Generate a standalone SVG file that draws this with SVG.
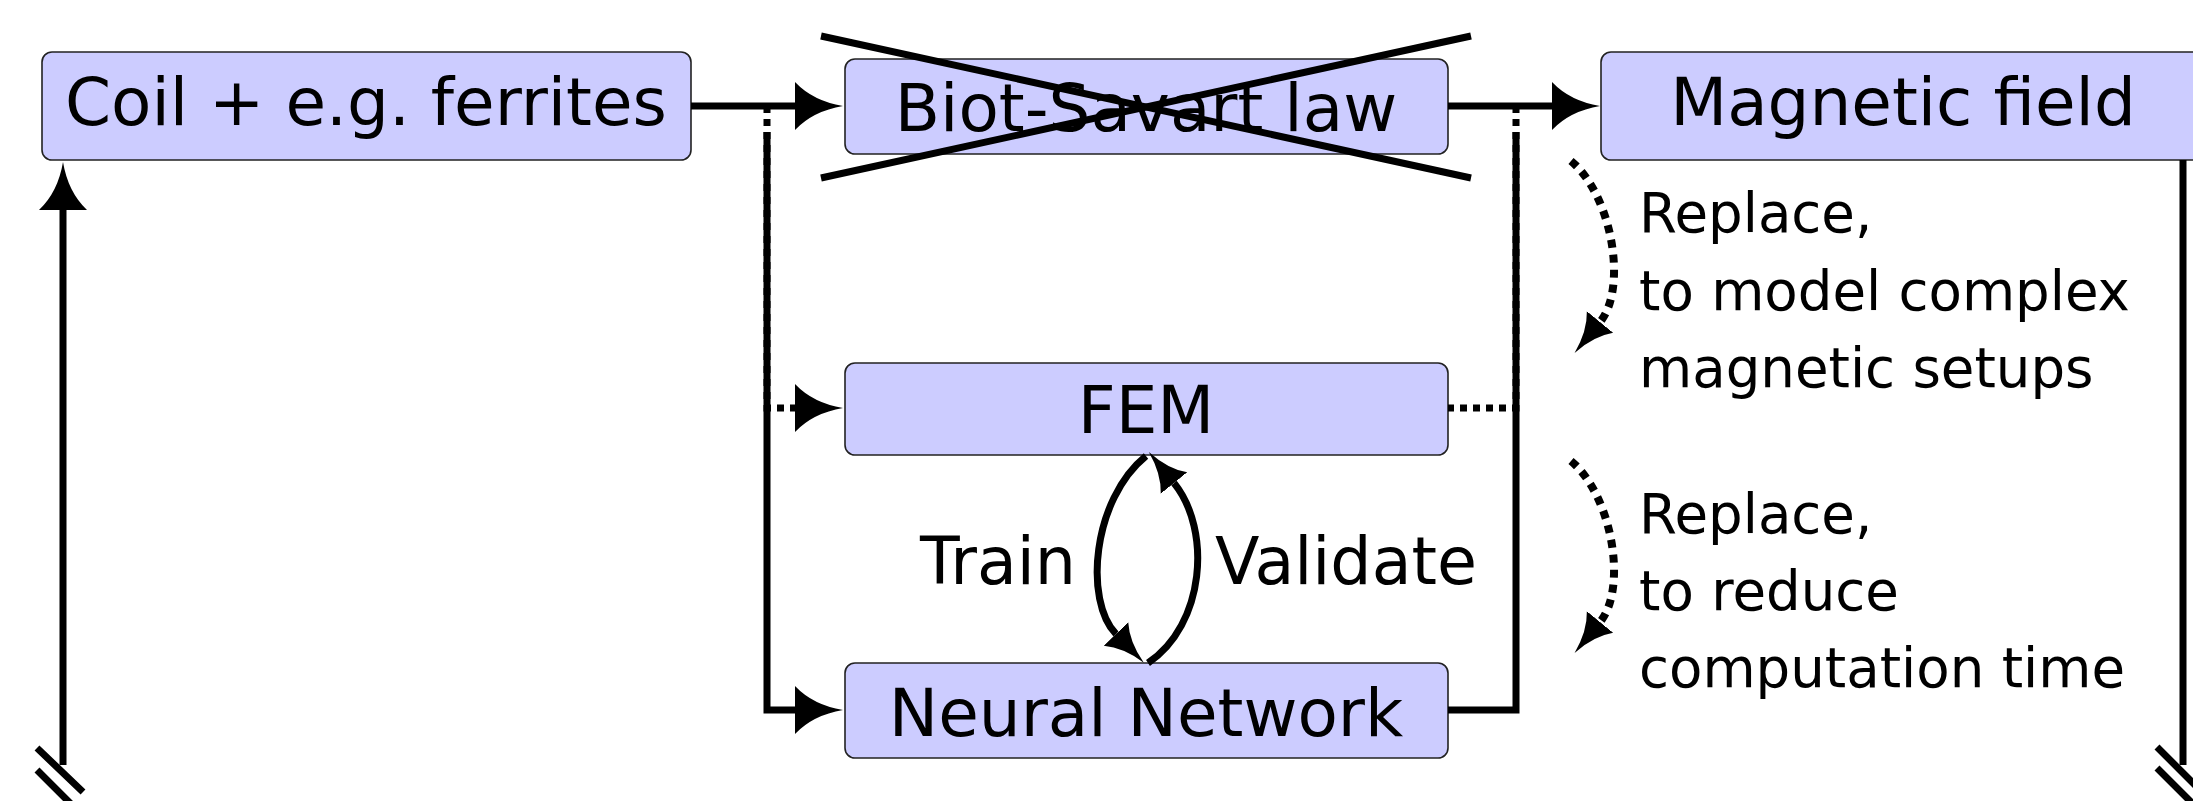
<svg xmlns="http://www.w3.org/2000/svg" width="2193" height="801" viewBox="0 0 2193 801">
<style>
.box{fill:#ccccff;stroke:#222;stroke-width:1.6}
.lbl{font-family:"DejaVu Sans","Liberation Sans",sans-serif;font-size:66px;fill:#000}
.lbl2{font-family:"DejaVu Sans","Liberation Sans",sans-serif;font-size:65px;fill:#000}
.note{font-family:"DejaVu Sans","Liberation Sans",sans-serif;font-size:54.6px;fill:#000}
.ln{fill:none;stroke:#000;stroke-width:7}
.dot{fill:none;stroke:#000;stroke-width:7;stroke-dasharray:7 6}
.dot2{fill:none;stroke:#000;stroke-width:8;stroke-dasharray:8 7}
.x{stroke:#000;stroke-width:7}
</style>
<defs>
<marker id="ah" markerUnits="userSpaceOnUse" viewBox="0 -25 48 50" refX="0" refY="0" markerWidth="48" markerHeight="50" orient="auto">
<path d="M0,-24 Q18,-5 48,0 Q18,5 0,24 Z" fill="#000"/>
</marker>
<marker id="as" markerUnits="userSpaceOnUse" viewBox="0 -18 40 36" refX="0" refY="0" markerWidth="40" markerHeight="36" orient="auto">
<path d="M0,-17 Q15,-4 40,0 Q15,4 0,17 Z" fill="#000"/>
</marker>
</defs>
<rect width="2193" height="801" fill="#fff"/>
<g id="coil">
<rect class="box" x="42" y="52" width="649" height="108" rx="10"/>
<text class="lbl" x="366" y="125" text-anchor="middle">Coil + e.g. ferrites</text>
</g>
<g id="biot-savart">
<rect class="box" x="845" y="59" width="603" height="95" rx="10"/>
<text class="lbl" x="1146" y="131" text-anchor="middle">Biot-Savart law</text>
<line class="x" x1="821" y1="36" x2="1471" y2="178"/>
<line class="x" x1="821" y1="178" x2="1471" y2="36"/>
</g>
<g id="magnetic-field">
<rect class="box" x="1601" y="52" width="604" height="108" rx="10"/>
<text class="lbl" x="1903" y="125" text-anchor="middle">Magnetic field</text>
</g>
<g id="fem">
<rect class="box" x="845" y="363" width="603" height="92" rx="10"/>
<text class="lbl" x="1146" y="433" text-anchor="middle">FEM</text>
</g>
<g id="neural-network">
<rect class="box" x="845" y="663" width="603" height="95" rx="10"/>
<text class="lbl" x="1146" y="736" text-anchor="middle">Neural Network</text>
</g>
<g id="connectors">
<path class="ln" d="M691,106 H795" marker-end="url(#ah)"/>
<path class="ln" d="M1448,106 H1552" marker-end="url(#ah)"/>
<path class="dot" d="M767,106 V408 H795" marker-end="url(#ah)"/>
<path class="ln" d="M767,132 V710 H795" marker-end="url(#ah)"/>
<path class="dot" d="M1516,106 V408 H1448"/>
<path class="ln" d="M1448,710 H1516 V132"/>
<path class="ln" d="M1146,456 C1092,500 1084,601 1116,634" marker-end="url(#as)"/>
<path class="ln" d="M1148,663 C1205,625 1212,530 1174,483" marker-end="url(#as)"/>
<text class="lbl2" x="1076" y="584" text-anchor="end">Train</text>
<text class="lbl2" x="1215" y="584">Validate</text>
<path class="ln" d="M63,765 V210" marker-end="url(#ah)"/>
<path class="ln" d="M2183,160 V765"/>
<path class="ln" d="M37,748 L83,792 M37,770 L71,804"/>
<path class="ln" d="M2157,747 L2203,793 M2157,768 L2200,811"/>
<path class="dot2" d="M1571,161 C1612,195 1628,288 1600,322" marker-end="url(#as)"/>
<path class="dot2" d="M1571,461 C1612,495 1628,588 1600,622" marker-end="url(#as)"/>
</g>
<g id="notes">
<text class="note" x="1639" y="232">Replace,</text>
<text class="note" x="1639" y="310">to model complex</text>
<text class="note" x="1639" y="387">magnetic setups</text>
<text class="note" x="1639" y="533">Replace,</text>
<text class="note" x="1639" y="610">to reduce</text>
<text class="note" x="1639" y="687">computation time</text>
</g>
</svg>
